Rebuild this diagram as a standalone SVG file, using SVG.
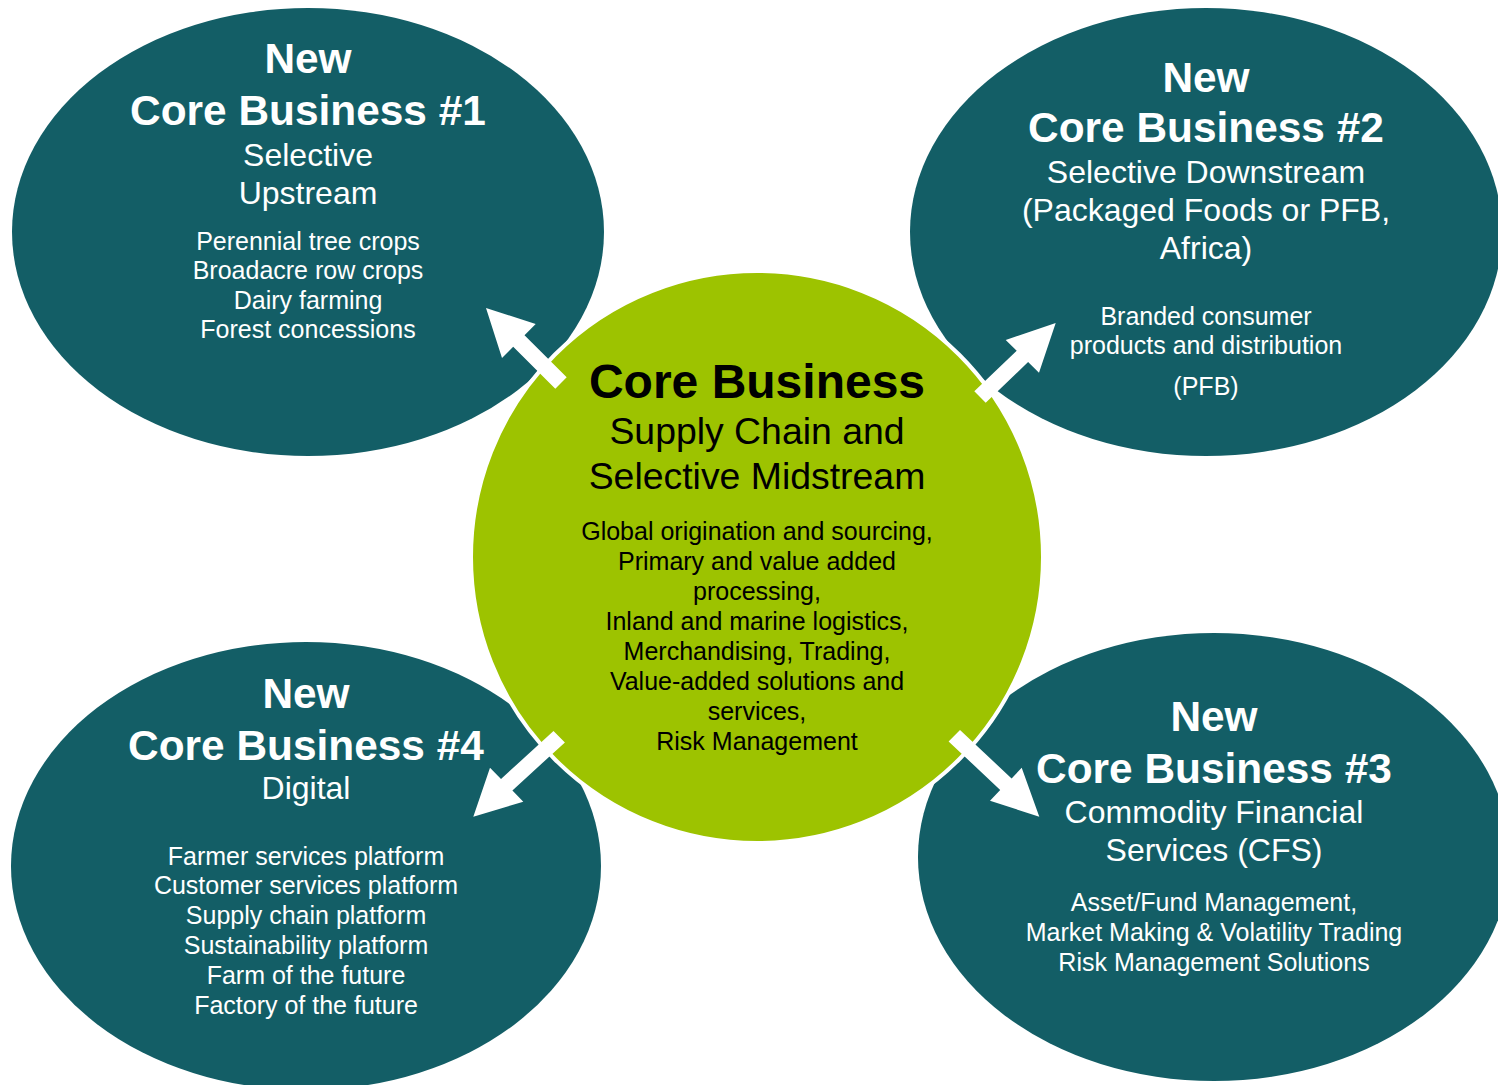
<svg xmlns="http://www.w3.org/2000/svg" width="1498" height="1085" viewBox="0 0 1498 1085">
<style>
.bub{fill:#135E66}
.core{fill:#9DC300;stroke:#fff;stroke-width:4}
text{font-family:"Liberation Sans",Arial,sans-serif;text-anchor:middle;fill:#fff}
.h{font-weight:bold;font-size:42.4px}
.s{font-size:32px}
.t{font-size:25px}
.dk{fill:#000}
.arr{fill:#fff}
</style>
<rect width="1498" height="1085" fill="#fff"/>
<g id="node-ncb1">
<ellipse class="bub" cx="308" cy="232" rx="296" ry="224"/>
</g>
<g id="node-ncb2">
<ellipse class="bub" cx="1206" cy="232" rx="296" ry="224"/>
</g>
<g id="node-ncb4">
<ellipse class="bub" cx="306" cy="866" rx="295" ry="224"/>
</g>
<g id="node-ncb3">
<ellipse class="bub" cx="1214" cy="857" rx="296" ry="224"/>
</g>
<g id="node-core">
<circle class="core" cx="757" cy="557" r="286"/>
</g>
<g id="labels-ncb1">
<text class="h" x="308" y="73">New</text>
<text class="h" x="308" y="125">Core Business #1</text>
<text class="s" x="308" y="166">Selective</text>
<text class="s" x="308" y="204">Upstream</text>
<text class="t" x="308" y="250">Perennial tree crops</text>
<text class="t" x="308" y="279">Broadacre row crops</text>
<text class="t" x="308" y="309">Dairy farming</text>
<text class="t" x="308" y="338">Forest concessions</text>
</g>
<g id="labels-ncb2">
<text class="h" x="1206" y="92">New</text>
<text class="h" x="1206" y="142">Core Business #2</text>
<text class="s" x="1206" y="183">Selective Downstream</text>
<text class="s" x="1206" y="221">(Packaged Foods or PFB,</text>
<text class="s" x="1206" y="259">Africa)</text>
<text class="t" x="1206" y="325">Branded consumer</text>
<text class="t" x="1206" y="354">products and distribution</text>
<text class="t" x="1206" y="395">(PFB)</text>
</g>
<g id="labels-core">
<text class="dk" x="757" y="398" font-weight="bold" font-size="48">Core Business</text>
<text class="dk" x="757" y="444" font-size="37.4">Supply Chain and</text>
<text class="dk" x="757" y="489" font-size="37.4">Selective Midstream</text>
<text class="t dk" x="757" y="540">Global origination and sourcing,</text>
<text class="t dk" x="757" y="570">Primary and value added</text>
<text class="t dk" x="757" y="600">processing,</text>
<text class="t dk" x="757" y="630">Inland and marine logistics,</text>
<text class="t dk" x="757" y="660">Merchandising, Trading,</text>
<text class="t dk" x="757" y="690">Value-added solutions and</text>
<text class="t dk" x="757" y="720">services,</text>
<text class="t dk" x="757" y="750">Risk Management</text>
</g>
<g id="labels-ncb4">
<text class="h" x="306" y="708">New</text>
<text class="h" x="306" y="760">Core Business #4</text>
<text class="s" x="306" y="799">Digital</text>
<text class="t" x="306" y="865">Farmer services platform</text>
<text class="t" x="306" y="894">Customer services platform</text>
<text class="t" x="306" y="924">Supply chain platform</text>
<text class="t" x="306" y="954">Sustainability platform</text>
<text class="t" x="306" y="984">Farm of the future</text>
<text class="t" x="306" y="1014">Factory of the future</text>
</g>
<g id="labels-ncb3">
<text class="h" x="1214" y="731">New</text>
<text class="h" x="1214" y="783">Core Business #3</text>
<text class="s" x="1214" y="823">Commodity Financial</text>
<text class="s" x="1214" y="861">Services (CFS)</text>
<text class="t" x="1214" y="911">Asset/Fund Management,</text>
<text class="t" x="1214" y="941">Market Making &amp; Volatility Trading</text>
<text class="t" x="1214" y="971">Risk Management Solutions</text>
</g>
<g id="connectors">
<polygon class="arr" points="566.7,377.3 524.5,335.3 535.7,324 486,308 502,358 513.2,346.7 555.3,388.7"/>
<polygon class="arr" points="974.3,391.3 1016.7,350.7 1005.7,340 1055.7,323 1039,372.7 1028.1,362.1 985.7,402.7"/>
<polygon class="arr" points="553.5,731 501,779 490,767.7 473.3,816.7 523.3,801.7 512.4,790.4 564.9,742.4"/>
<polygon class="arr" points="960,730 1011.6,778.5 1021.7,767.7 1039.3,816.7 990,800.7 1000.2,789.9 948.6,741.4"/>
</g>
</svg>
